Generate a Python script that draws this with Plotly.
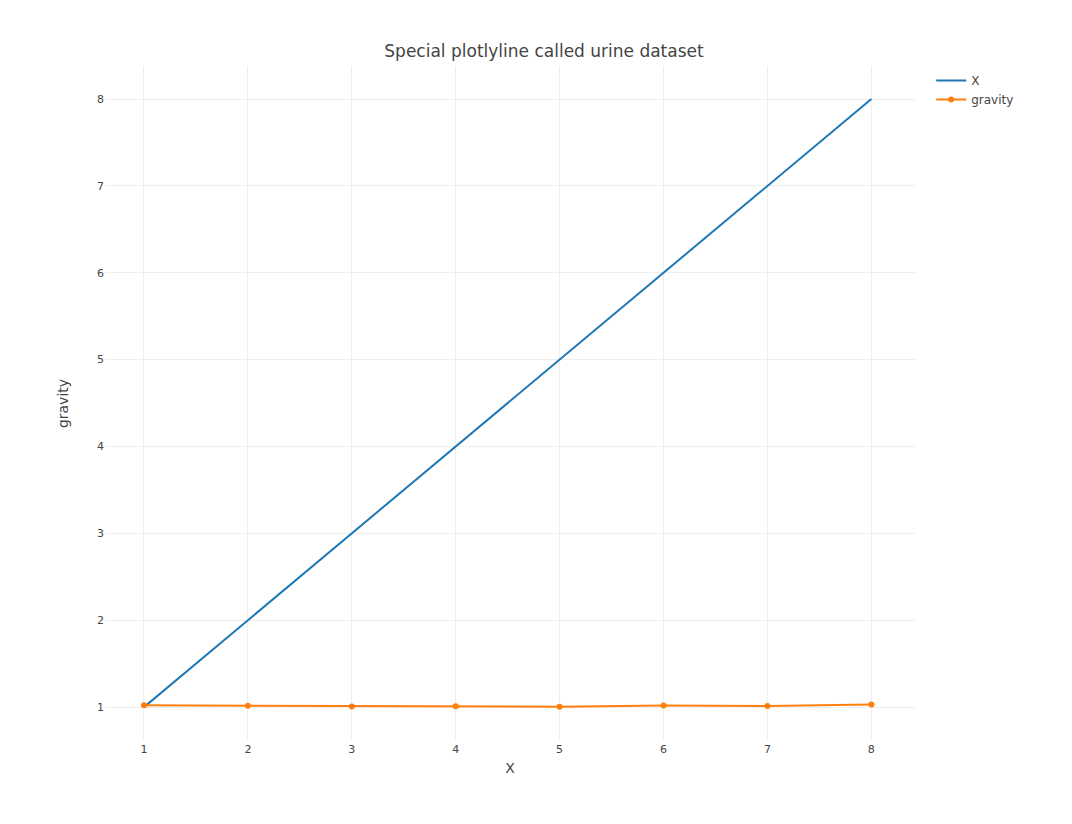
import plotly.graph_objects as go

x_vals = [1, 2, 3, 4, 5, 6, 7, 8]
gravity = [1.021, 1.017, 1.008, 1.011, 1.005, 1.020, 1.012, 1.029]

fig = go.Figure()
fig.add_trace(go.Scatter(x=x_vals, y=x_vals, mode="lines", name="X",
                         line=dict(color="#1f77b4", width=2)))
fig.add_trace(go.Scatter(x=x_vals, y=gravity, mode="lines+markers", name="gravity",
                         line=dict(color="#ff7f0e", width=2), marker=dict(size=6)))
fig.update_layout(
    width=1072, height=824, template="none",
    font=dict(family="DejaVu Sans", color="#444", size=12),
    title=dict(text="Special plotlyline called urine dataset", x=0.5, xanchor="center", y=0.955, font=dict(size=17)),
    margin=dict(l=97, r=165, t=58, b=91),
    paper_bgcolor="white", plot_bgcolor="white",
    legend=dict(x=1.02, y=1, xanchor="left", yanchor="top", font=dict(size=12)),
    xaxis=dict(title=dict(text="X", standoff=8), range=[0.625, 8.42], gridcolor="#eee", zeroline=False,
               showline=False, ticks="", tickfont=dict(size=11)),
    yaxis=dict(title=dict(text="gravity", standoff=25), range=[0.61, 8.38], gridcolor="#eee", zeroline=False,
               showline=False, ticks="", tickfont=dict(size=11)),
)
fig.write_html("out.html")
